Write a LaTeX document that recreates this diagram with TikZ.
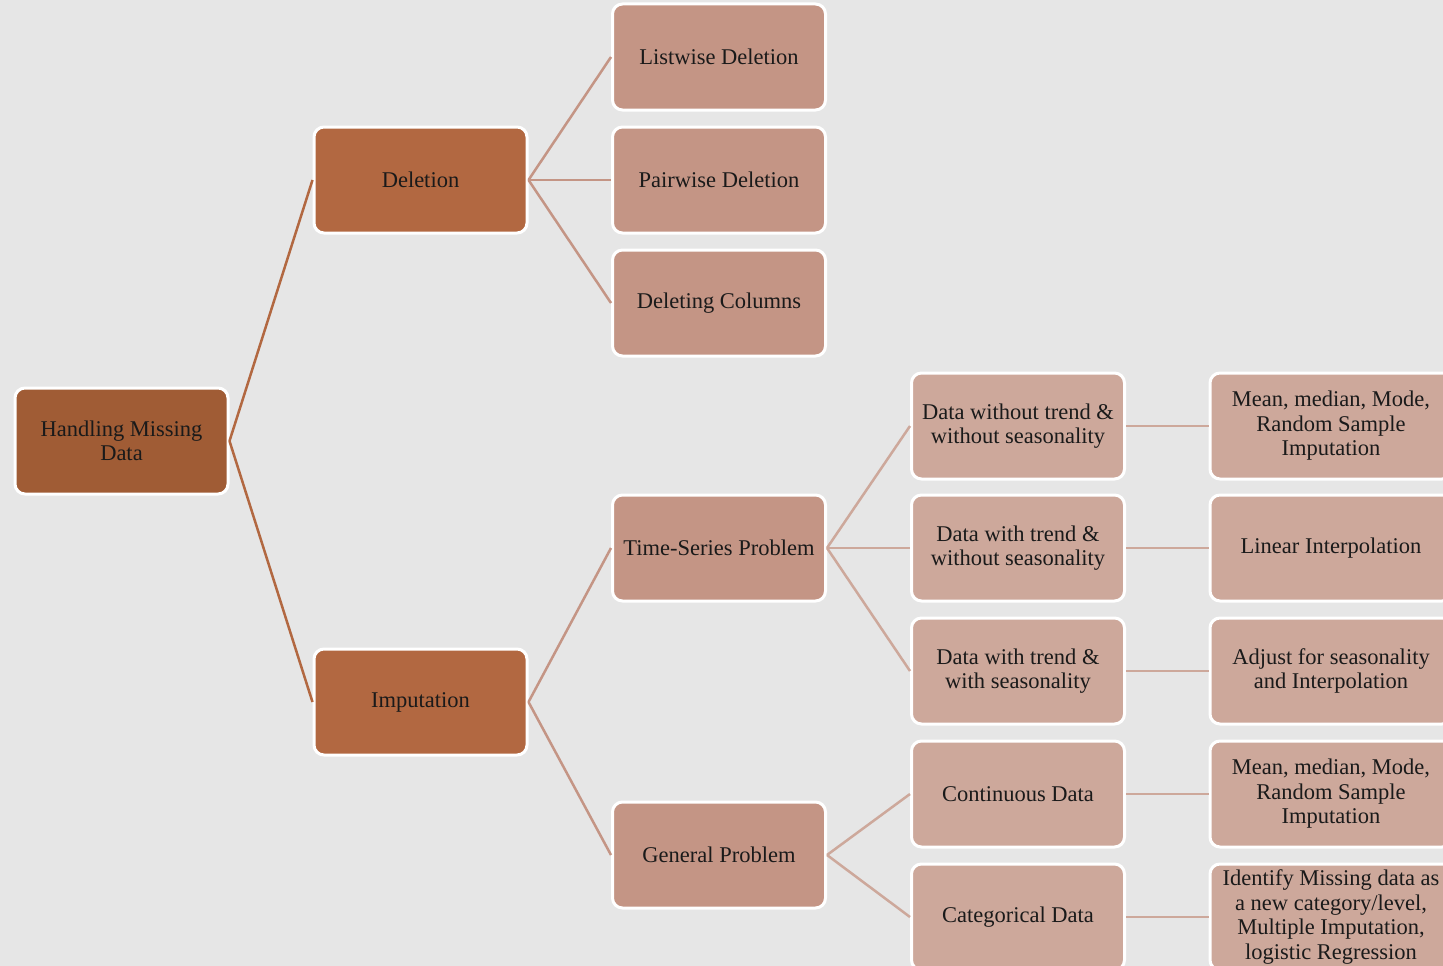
\documentclass[tikz,border=0pt]{standalone}
\usepackage{fontspec}
\setmainfont{Liberation Serif}
\definecolor{bg}{HTML}{E6E6E6}
\definecolor{c0}{HTML}{A05C35}
\definecolor{c1}{HTML}{B26841}
\definecolor{c2}{HTML}{C49585}
\definecolor{c3}{HTML}{CDA89B}
\definecolor{txt}{HTML}{1A1A1A}
\tikzset{
  box/.style={draw=white, line width=3pt, rounded corners=10pt, minimum width=213pt, minimum height=106pt, inner sep=1pt, align=center, text=txt, font=\fontsize{22.5}{24.5}\selectfont},
  rootbox/.style={box, fill=c0},
  lvone/.style={box, fill=c1},
  lvtwo/.style={box, fill=c2},
  lvthree/.style={box, fill=c3},
  lvfour/.style={box, fill=c3, minimum width=242pt},
  e0/.style={draw=c1, line width=2.5pt},
  e1/.style={draw=c2, line width=2.5pt},
  e2/.style={draw=c3, line width=2.5pt}
}
\begin{document}
\begin{tikzpicture}[x=1pt,y=-1pt]
\useasboundingbox (0,0) rectangle (1443,966);
\clip (0,0) rectangle (1443,966);
\fill[bg] (0,0) rectangle (1443,966);
% nodes
\node[rootbox] (root) at (121.5,441) {Handling Missing\\Data};
\node[lvone] (del) at (420.5,180) {Deletion};
\node[lvone] (imp) at (420.5,702) {Imputation};
\node[lvtwo] (list) at (719,57) {Listwise Deletion};
\node[lvtwo] (pair) at (719,180) {Pairwise Deletion};
\node[lvtwo] (cols) at (719,303) {Deleting Columns};
\node[lvtwo] (ts) at (719,548) {Time-Series Problem};
\node[lvtwo] (gen) at (719,855) {General Problem};
\node[lvthree] (d1) at (1018,426) {Data without trend \&\\without seasonality};
\node[lvthree] (d2) at (1018,548) {Data with trend \&\\without seasonality};
\node[lvthree] (d3) at (1018,671) {Data with trend \&\\with seasonality};
\node[lvthree] (d4) at (1018,794) {Continuous Data};
\node[lvthree] (d5) at (1018,917) {Categorical Data};
\node[lvfour] (m1) at (1331,426) {Mean, median, Mode,\\Random Sample\\Imputation};
\node[lvfour] (m2) at (1331,548) {Linear Interpolation};
\node[lvfour] (m3) at (1331,671) {Adjust for seasonality\\and Interpolation};
\node[lvfour] (m4) at (1331,794) {Mean, median, Mode,\\Random Sample\\Imputation};
\node[lvfour] (m5) at (1331,917) {Identify Missing data as\\a new category/level,\\Multiple Imputation,\\logistic Regression};
% edges
\draw[e0] (root.east) -- (del.west);
\draw[e0] (root.east) -- (imp.west);
\draw[e1] (del.east) -- (list.west);
\draw[e1] (del.east) -- (pair.west);
\draw[e1] (del.east) -- (cols.west);
\draw[e1] (imp.east) -- (ts.west);
\draw[e1] (imp.east) -- (gen.west);
\draw[e2] (ts.east) -- (d1.west);
\draw[e2] (ts.east) -- (d2.west);
\draw[e2] (ts.east) -- (d3.west);
\draw[e2] (gen.east) -- (d4.west);
\draw[e2] (gen.east) -- (d5.west);
\draw[e2] (d1.east) -- (m1.west);
\draw[e2] (d2.east) -- (m2.west);
\draw[e2] (d3.east) -- (m3.west);
\draw[e2] (d4.east) -- (m4.west);
\draw[e2] (d5.east) -- (m5.west);
\end{tikzpicture}
\end{document}
